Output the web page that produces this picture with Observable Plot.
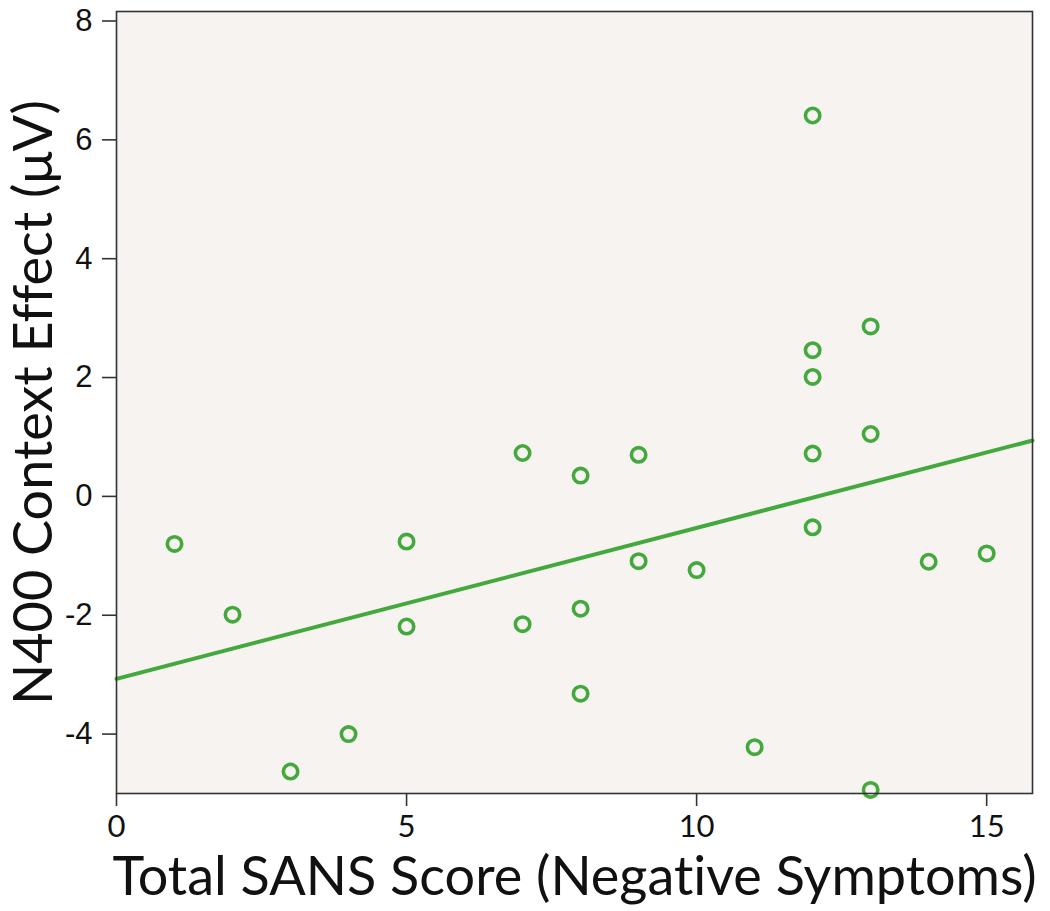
<!DOCTYPE html>
<html>
<head>
<meta charset="utf-8">
<script src="https://cdn.jsdelivr.net/npm/d3@7"></script>
<script src="https://cdn.jsdelivr.net/npm/@observablehq/plot@0.6"></script>
<style>
  html, body { margin: 0; padding: 0; background: #ffffff; }
  #chart svg { display: block; }
  #chart svg text { font-variant-ligatures: none; }
</style>
</head>
<body>
<div id="chart"></div>
<script>
// SANS score (x) and N400 context effect (y) per participant
const sansScore = [1, 2, 3, 4, 5, 5, 7, 7, 8, 8, 8, 9, 9, 10, 11, 12, 12, 12, 12, 12, 13, 13, 13, 14, 15];
const n400Effect = [-0.80, -1.99, -4.63, -4.00, -0.76, -2.19, 0.73, -2.15, 0.35, -1.89, -3.32, 0.70, -1.09, -1.24, -4.22, 6.41, 2.46, 2.01, 0.72, -0.52, 2.86, 1.05, -4.94, -1.10, -0.96];
// fitted regression line endpoints
const fitX = [0, 15.79];
const fitY = [-3.07, 0.94];
const xTicks = [0, 5, 10, 15];
const yTicks = [-4, -2, 0, 2, 4, 6, 8];
const xLabel = "Total SANS Score (Negative Symptoms)";
const yLabel = "N400 Context Effect (μV)";

const points = sansScore.map((x, i) => ({x, y: n400Effect[i]}));
const fit = fitX.map((x, i) => ({x, y: fitY[i]}));

const green = "#43a93d";
const labelFont = "Lato, 'Open Sans', sans-serif";

const chart = Plot.plot({
  width: 1050,
  height: 911,
  marginLeft: 116,
  marginRight: 18,
  marginTop: 11,
  marginBottom: 118,
  style: {fontFamily: "'Liberation Sans', Arial, sans-serif", background: "#ffffff", color: "#111"},
  x: {domain: [0, 15.79]},
  y: {domain: [-5.0, 8.16]},
  marks: [
    Plot.frame({fill: "#f6f3f1"}),
    Plot.axisY({ticks: yTicks, tickFormat: d => String(d), tickSize: 14, tickPadding: 10, fontSize: 31, label: null, stroke: "#333", strokeWidth: 1.6}),
    Plot.axisX({ticks: xTicks, tickFormat: d => String(d), tickSize: 13, tickPadding: 8, fontSize: 31, label: null, stroke: "#333", strokeWidth: 1.6, fontFamily: labelFont}),
    Plot.line(fit, {x: "x", y: "y", stroke: green, strokeWidth: 4}),
    Plot.dot(points, {x: "x", y: "y", r: 7.2, stroke: green, strokeWidth: 3.6, fill: "none"}),
    Plot.frame({stroke: "#333", strokeWidth: 1.6}),
    Plot.text([xLabel], {frameAnchor: "bottom", dy: 84, fontSize: 54, fontFamily: labelFont, fill: "#111", lineAnchor: "middle", textAnchor: "middle"}),
    Plot.text([yLabel], {frameAnchor: "left", dx: -82, rotate: -90, fontSize: 54, fontFamily: labelFont, fill: "#111", lineAnchor: "middle", textAnchor: "middle"})
  ]
});
document.getElementById("chart").appendChild(chart);
</script>
</body>
</html>
